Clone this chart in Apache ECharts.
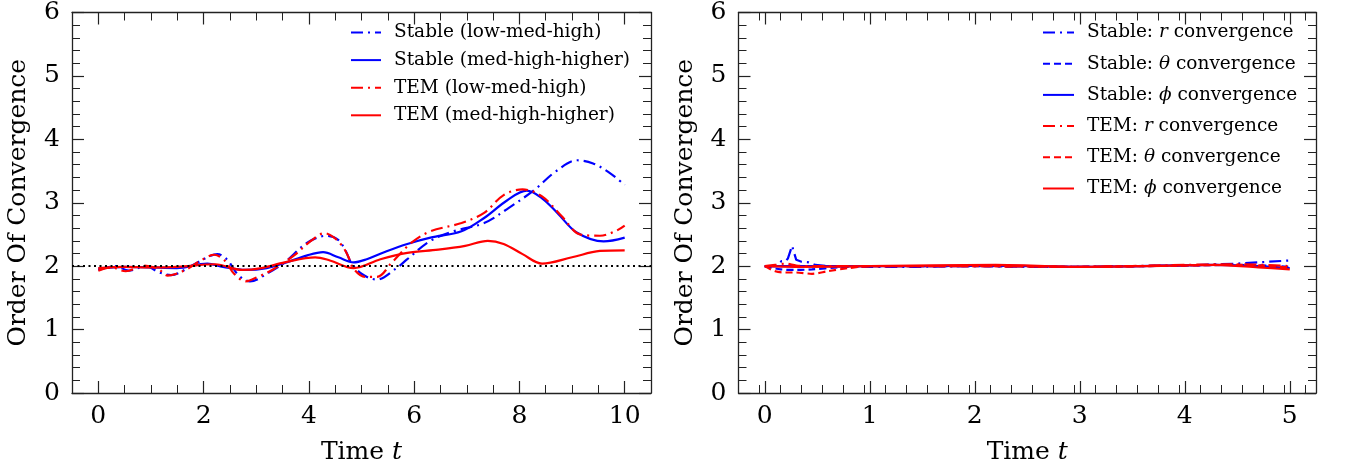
<!DOCTYPE html>
<html>
<head>
<meta charset="utf-8">
<script src="https://cdn.jsdelivr.net/npm/echarts@6/dist/echarts.min.js"></script>
<style>
	html, body { margin: 0; padding: 0; background: #fff; }
	#main { width: 1346px; height: 472px; }
</style>
</head>
<body>
<div id="main"></div>
<script>
// left panel: time grid and values of each curve
const stableLowT = [0, 0.32, 0.58, 0.9, 1.16, 1.38, 1.78, 2.07, 2.26, 2.44, 2.66, 2.88, 3.24, 3.54, 3.97, 4.34, 4.55, 4.7, 4.8, 5.0, 5.29, 5.65, 5.87, 6.31, 6.75, 7.33, 7.8, 8.28, 8.7, 9.1, 9.4, 9.7, 10];
const stableLowV = [1.94, 2.0, 1.93, 2.0, 1.9, 1.86, 2.01, 2.14, 2.19, 2.11, 1.86, 1.76, 1.9, 2.06, 2.37, 2.48, 2.42, 2.24, 2.06, 1.88, 1.79, 1.96, 2.11, 2.4, 2.55, 2.68, 2.92, 3.2, 3.5, 3.67, 3.62, 3.48, 3.28];

const stableMedT = [0, 0.5, 1.0, 1.49, 2.07, 2.37, 2.8, 3.2, 3.54, 3.97, 4.27, 4.56, 4.85, 5.1, 5.43, 5.87, 6.31, 6.9, 7.33, 7.77, 8.14, 8.43, 8.72, 9.09, 9.6, 10];
const stableMedV = [1.96, 1.99, 1.98, 1.97, 2.04, 1.99, 1.94, 1.97, 2.05, 2.17, 2.22, 2.14, 2.06, 2.11, 2.22, 2.35, 2.45, 2.55, 2.76, 3.04, 3.19, 3.07, 2.84, 2.53, 2.39, 2.45];

const temLowT = [0, 0.24, 0.52, 0.87, 1.13, 1.32, 1.63, 1.95, 2.2, 2.4, 2.58, 2.8, 3.03, 3.34, 3.72, 4.04, 4.3, 4.48, 4.65, 4.75, 4.85, 5.07, 5.29, 5.58, 5.95, 6.31, 6.9, 7.33, 7.7, 8.06, 8.43, 8.8, 9.16, 9.53, 9.82, 10];
const temLowV = [1.93, 1.98, 1.92, 2.01, 1.96, 1.85, 1.93, 2.09, 2.18, 2.09, 1.88, 1.76, 1.83, 1.96, 2.17, 2.4, 2.52, 2.45, 2.3, 2.15, 1.96, 1.83, 1.83, 2.06, 2.37, 2.55, 2.68, 2.84, 3.12, 3.21, 3.1, 2.79, 2.5, 2.48, 2.55, 2.64];

const temMedT = [0, 0.5, 1.0, 1.5, 2.22, 2.73, 3.1, 3.54, 4.12, 4.4, 4.85, 5.36, 5.87, 6.46, 6.97, 7.4, 7.7, 8.06, 8.43, 9.0, 9.53, 10];
const temMedV = [1.97, 1.99, 1.98, 1.99, 2.03, 1.94, 1.97, 2.06, 2.14, 2.09, 1.97, 2.11, 2.21, 2.26, 2.32, 2.4, 2.35, 2.19, 2.04, 2.14, 2.24, 2.25];

// right panel
const stableRT = [0, 0.1, 0.16, 0.2, 0.22, 0.26, 0.3, 0.35, 0.42, 0.48, 0.6, 1.0, 1.5, 2.0, 2.5, 3.0, 3.5, 4.0, 4.5, 4.8, 5.0];
const stableRV = [2.0, 2.0, 2.08, 2.08, 2.12, 2.32, 2.1, 2.07, 2.06, 2.02, 2.0, 1.99, 1.99, 2.0, 1.99, 1.99, 2.0, 2.01, 2.04, 2.07, 2.09];
const stableThT = [0, 0.15, 0.3, 0.45, 0.7, 1.0, 2.0, 3.0, 4.0, 4.5, 5.0];
const stableThV = [2.0, 1.95, 1.94, 1.95, 1.98, 2.0, 2.0, 1.99, 2.01, 2.02, 1.99];
const stablePhT = [0, 0.5, 1.0, 1.5, 2.2, 3.0, 3.5, 4.3, 4.7, 5.0];
const stablePhV = [2.0, 2.0, 2.0, 2.0, 2.01, 1.99, 2.0, 2.02, 2.0, 1.97];
const temRT = [0, 0.1, 0.2, 0.3, 0.5, 1.0, 2.0, 3.0, 4.0, 4.5, 5.0];
const temRV = [2.0, 2.02, 2.04, 2.01, 2.0, 2.0, 2.0, 1.99, 2.02, 2.03, 2.0];
const temThT = [0, 0.1, 0.2, 0.3, 0.45, 0.6, 0.8, 1.0, 2.0, 3.0, 4.0, 4.5, 5.0];
const temThV = [2.0, 1.92, 1.9, 1.9, 1.88, 1.92, 1.97, 2.0, 2.0, 1.99, 2.01, 2.02, 1.98];
const temPhT = [0, 0.3, 1.0, 2.2, 3.0, 3.6, 4.3, 4.7, 5.0];
const temPhV = [2.0, 1.99, 2.0, 2.02, 1.99, 2.0, 2.02, 1.98, 1.95];

const leftNames = ["Stable (low-med-high)", "Stable (med-high-higher)", "TEM (low-med-high)", "TEM (med-high-higher)"];
const rightNames = ["Stable: r convergence", "Stable: θ convergence", "Stable: ϕ convergence", "TEM: r convergence", "TEM: θ convergence", "TEM: ϕ convergence"];
const leftTicks = [0, 2, 4, 6, 8, 10];
const rightTicks = [0, 1, 2, 3, 4, 5];

const FONT = "DejaVu Serif";
const BLUE = "#0000ff";
const RED = "#ff0000";
const DASHDOT = [12, 5, 2, 5];
const DASHED = [7, 4];

function zip(t, v) {
	return t.map((x, i) => [x, v[i]]);
}

function xAxes(grid, min, max, ticks, minorStep) {
	const line = { show: true, onZero: false, lineStyle: { color: "#222", width: 1.3 } };
	const base = { type: "value", gridIndex: grid, min: min, max: max, splitLine: { show: false } };
	return [
		Object.assign({}, base, {
			position: "bottom", axisLine: line,
			axisTick: { inside: true, length: 12, customValues: ticks, lineStyle: { color: "#222", width: 1.2 } },
			axisLabel: { customValues: ticks, margin: 11, color: "#000", fontFamily: FONT, fontSize: 25 },
			name: "Time {i|t}", nameLocation: "middle", nameGap: 47,
			nameTextStyle: { color: "#000", fontFamily: FONT, fontSize: 25, rich: { i: { fontFamily: FONT, fontSize: 25, fontStyle: "italic", color: "#000" } } }
		}),
		Object.assign({}, base, {
			position: "bottom", interval: minorStep, axisLine: { show: false, onZero: false },
			axisTick: { inside: true, length: 8, lineStyle: { color: "#222", width: 1 } }, axisLabel: { show: false }
		}),
		Object.assign({}, base, {
			position: "top", axisLine: line,
			axisTick: { inside: true, length: 12, customValues: ticks, lineStyle: { color: "#222", width: 1.2 } },
			axisLabel: { show: false }
		}),
		Object.assign({}, base, {
			position: "top", interval: minorStep, axisLine: { show: false, onZero: false },
			axisTick: { inside: true, length: 8, lineStyle: { color: "#222", width: 1 } }, axisLabel: { show: false }
		})
	];
}

function yAxes(grid) {
	const line = { show: true, onZero: false, lineStyle: { color: "#222", width: 1.3 } };
	const base = { type: "value", gridIndex: grid, min: 0, max: 6, splitLine: { show: false } };
	return [
		Object.assign({}, base, {
			position: "left", interval: 1, axisLine: line,
			axisTick: { inside: true, length: 12, lineStyle: { color: "#222", width: 1.2 } },
			axisLabel: { margin: 12, color: "#000", fontFamily: FONT, fontSize: 25 },
			name: "Order Of Convergence", nameLocation: "middle", nameGap: 41,
			nameTextStyle: { color: "#000", fontFamily: FONT, fontSize: 25 }
		}),
		Object.assign({}, base, {
			position: "left", interval: 0.2, axisLine: { show: false, onZero: false },
			axisTick: { inside: true, length: 8, lineStyle: { color: "#222", width: 1 } }, axisLabel: { show: false }
		}),
		Object.assign({}, base, {
			position: "right", interval: 1, axisLine: line,
			axisTick: { inside: true, length: 12, lineStyle: { color: "#222", width: 1.2 } }, axisLabel: { show: false }
		}),
		Object.assign({}, base, {
			position: "right", interval: 0.2, axisLine: { show: false, onZero: false },
			axisTick: { inside: true, length: 8, lineStyle: { color: "#222", width: 1 } }, axisLabel: { show: false }
		})
	];
}

function line(name, data, color, dash, xi, yi, smooth) {
	return {
		name: name, type: "line", data: data, xAxisIndex: xi, yAxisIndex: yi,
		showSymbol: false, symbol: "none", smooth: smooth, animation: false,
		lineStyle: { color: color, width: 2.2, type: dash }, itemStyle: { color: color }
	};
}

const legendText = {
	fontFamily: FONT, fontSize: 18.5, color: "#000", lineHeight: 20, padding: [0, 0, 0, 8],
	rich: { i: { fontFamily: FONT, fontSize: 18.5, fontStyle: "italic", color: "#000" } }
};

var myChart = echarts.init(document.querySelector("#main"));

var option = {
	animation: false,
	backgroundColor: "#fff",
	grid: [
		{ left: 72, top: 5.5, width: 579, height: 387.5 },
		{ left: 738.5, top: 5.5, width: 577.5, height: 387.5 }
	],
	xAxis: xAxes(0, -0.5, 10.5, leftTicks, 0.5).concat(xAxes(1, -0.25, 5.25, rightTicks, 0.2)),
	yAxis: yAxes(0).concat(yAxes(1)),
	legend: [
		{
			data: leftNames, orient: "vertical", left: 350, top: 22.5, padding: 0, itemWidth: 30, itemHeight: 12,
			itemGap: 7.6, textStyle: legendText, itemStyle: { opacity: 0 }
		},
		{
			data: rightNames, orient: "vertical", left: 1042, top: 22.5, padding: 0, itemWidth: 31, itemHeight: 12,
			itemGap: 11.2, textStyle: legendText, itemStyle: { opacity: 0 },
			formatter: name => name.replace(/: (r|θ|ϕ) /, ": {i|$1} ")
		}
	],
	series: [
		line(leftNames[0], zip(stableLowT, stableLowV), BLUE, DASHDOT, 0, 0, 0.35),
		line(leftNames[1], zip(stableMedT, stableMedV), BLUE, "solid", 0, 0, 0.35),
		line(leftNames[2], zip(temLowT, temLowV), RED, DASHDOT, 0, 0, 0.35),
		line(leftNames[3], zip(temMedT, temMedV), RED, "solid", 0, 0, 0.35),
		{
			type: "line", xAxisIndex: 0, yAxisIndex: 0, data: [], silent: true,
			markLine: {
				silent: true, symbol: "none", label: { show: false }, animation: false,
				lineStyle: { color: "#000", type: [2, 3.5], width: 2 },
				data: [{ yAxis: 2 }]
			}
		},
		line(rightNames[0], zip(stableRT, stableRV), BLUE, DASHDOT, 4, 4, false),
		line(rightNames[1], zip(stableThT, stableThV), BLUE, DASHED, 4, 4, 0.3),
		line(rightNames[2], zip(stablePhT, stablePhV), BLUE, "solid", 4, 4, 0.3),
		line(rightNames[3], zip(temRT, temRV), RED, DASHDOT, 4, 4, 0.3),
		line(rightNames[4], zip(temThT, temThV), RED, DASHED, 4, 4, 0.3),
		line(rightNames[5], zip(temPhT, temPhV), RED, "solid", 4, 4, 0.3)
	]
};

myChart.setOption(option);
</script>
</body>
</html>
